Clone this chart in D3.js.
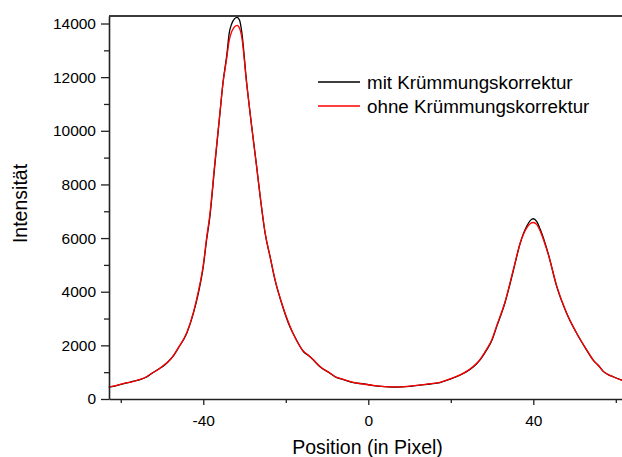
<!DOCTYPE html>
<html>
<head>
<meta charset="utf-8">
<script src="https://cdn.jsdelivr.net/npm/d3@7/dist/d3.min.js"></script>
<style>
  html, body { margin: 0; padding: 0; background: #fff; }
  svg { display: block; font-family: "Liberation Sans", Arial, sans-serif; }
</style>
</head>
<body>
<svg id="chart" width="622" height="457"></svg>
<script>
// Detector position (pixel) of each sample
const positions = [-62.9, -61, -59, -57.5, -55.8, -54, -52.5, -50.9, -49.5, -48.5, -47.2, -46.1, -44.0, -42.4, -41.2,
  -40.0, -39.2, -38.4, -37.2, -36.0, -35.2, -34.3, -33.7, -33.1, -32.4, -31.8, -31.2, -30.7, -29.5, -28.3,
  -27.1, -26.1, -25.0, -23.8, -22.6, -21.0, -19.0, -17.4, -15.7, -14.5, -13.3, -11.7, -9.3, -8.1, -6,
  -3.6, -1, 1.2, 4, 6.9, 10, 12.5, 15, 17.4, 19.5, 21.4, 23.5, 25.5, 27.2, 28.7,
  30, 31.1, 33.1, 35.2, 36.8, 38.4, 39.3, 40.0, 40.8, 41.7, 43.6, 45.7, 48.1, 50.5, 52.9,
  54.5, 55.8, 57.0, 58.2, 59.4, 61.5];

// Intensity with curvature correction
const withCorrection = [440, 500, 580, 640, 700, 800, 950, 1110, 1250, 1390, 1620, 1890, 2450, 3190, 3940,
  4930, 5920, 6790, 8720, 10580, 11820, 12820, 13650, 13990, 14180, 14230, 14120, 13720, 11820, 10210,
  8720, 7420, 6170, 5300, 4430, 3570, 2690, 2200, 1760, 1620, 1450, 1200, 960, 830, 720,
  610, 560, 500, 460, 440, 470, 520, 560, 610, 720, 830, 990, 1200, 1480, 1830,
  2200, 2690, 3570, 4810, 5800, 6440, 6660, 6720, 6620, 6320, 5430, 4180, 3190, 2450, 1830,
  1450, 1250, 1020, 900, 830, 700];

// Intensity without curvature correction
const withoutCorrection = [450, 510, 590, 630, 710, 810, 960, 1100, 1270, 1400, 1630, 1900, 2470, 3230, 4000,
  5000, 6000, 6880, 8800, 10620, 11800, 12720, 13380, 13700, 13880, 13930, 13820, 13520, 11780, 10200,
  8700, 7430, 6190, 5310, 4450, 3580, 2720, 2180, 1780, 1630, 1460, 1210, 970, 840, 730,
  620, 550, 510, 460, 450, 480, 520, 570, 620, 730, 840, 1000, 1220, 1500, 1860,
  2230, 2720, 3600, 4850, 5800, 6380, 6540, 6580, 6510, 6250, 5400, 4200, 3200, 2460, 1840,
  1460, 1240, 1030, 910, 820, 690];

const seriesNames = ["mit Krümmungskorrektur", "ohne Krümmungskorrektur"];
const seriesColors = ["#000000", "#ff0000"];

const xMajorTicks = [-40, 0, 40];
const xMinorTicks = [-60, -20, 20, 60];
const yMajorTicks = [0, 2000, 4000, 6000, 8000, 10000, 12000, 14000];
const yMinorTicks = [1000, 3000, 5000, 7000, 9000, 11000, 13000];

const xTitle = "Position (in Pixel)";
const yTitle = "Intensität";

const svg = d3.select("#chart");
const plot = { left: 109, right: 622, top: 16, bottom: 399 };

const x = d3.scaleLinear().domain([-62.85, 61.5]).range([plot.left, plot.right]);
const y = d3.scaleLinear().domain([0, 14280]).range([plot.bottom, plot.top]);

// Plain hyphen-minus labels
const plainFormat = d => String(d);

// Curves (black first, red drawn on top)
const line = d3.line()
  .x(d => x(d[0]))
  .y(d => y(d[1]))
  .curve(d3.curveMonotoneX);

[withCorrection, withoutCorrection].forEach((vals, i) => {
  svg.append("path")
    .datum(positions.map((p, k) => [p, vals[k]]))
    .attr("fill", "none")
    .attr("stroke", seriesColors[i])
    .attr("stroke-width", 1.3)
    .attr("stroke-linejoin", "round")
    .attr("d", line);
});

// Top frame line
svg.append("line")
  .attr("x1", plot.left).attr("x2", plot.right)
  .attr("y1", plot.top).attr("y2", plot.top)
  .attr("stroke", "#3c3c3c").attr("stroke-width", 2);

// X axis
const xAxis = svg.append("g").attr("transform", `translate(0,${plot.bottom})`);
xAxis.call(d3.axisBottom(x).tickValues(xMajorTicks).tickSize(6).tickPadding(10).tickFormat(plainFormat).tickSizeOuter(0));
xAxis.append("g").call(d3.axisBottom(x).tickValues(xMinorTicks).tickSize(4).tickFormat("").tickSizeOuter(0))
  .select(".domain").remove();
xAxis.selectAll(".domain").attr("stroke", "#222").attr("stroke-width", 1.6);
xAxis.selectAll(".tick line").attr("stroke", "#222").attr("stroke-width", 1.3);
xAxis.selectAll(".tick text").attr("font-size", 15.5).attr("fill", "#000")
  .attr("font-family", "'Liberation Sans', Arial, sans-serif");

// Y axis
const yAxis = svg.append("g").attr("transform", `translate(${plot.left},0)`);
yAxis.call(d3.axisLeft(y).tickValues(yMajorTicks).tickSize(8).tickPadding(5).tickFormat(plainFormat).tickSizeOuter(0));
yAxis.append("g").call(d3.axisLeft(y).tickValues(yMinorTicks).tickSize(5).tickFormat("").tickSizeOuter(0))
  .select(".domain").remove();
yAxis.selectAll(".domain").attr("stroke", "#222").attr("stroke-width", 1.6);
yAxis.selectAll(".tick line").attr("stroke", "#222").attr("stroke-width", 1.3);
yAxis.selectAll(".tick text").attr("font-size", 15.5).attr("fill", "#000")
  .attr("font-family", "'Liberation Sans', Arial, sans-serif");

// Axis titles
svg.append("text")
  .attr("x", (plot.left + plot.right) / 2 + 2)
  .attr("y", 454)
  .attr("text-anchor", "middle")
  .attr("font-size", 19.5)
  .text(xTitle);

svg.append("text")
  .attr("transform", `translate(27,${(plot.top + plot.bottom) / 2 - 4}) rotate(-90)`)
  .attr("text-anchor", "middle")
  .attr("font-size", 19.5)
  .text(yTitle);

// Legend
const legend = svg.append("g").attr("transform", "translate(318,82)");
seriesNames.forEach((name, i) => {
  const g = legend.append("g").attr("transform", `translate(0,${i * 24})`);
  g.append("line").attr("x1", 0).attr("x2", 42).attr("y1", 0).attr("y2", 0)
    .attr("stroke", seriesColors[i]).attr("stroke-width", 1.3);
  g.append("text").attr("x", 49).attr("y", 7).attr("font-size", 18.8).text(name);
});
</script>
</body>
</html>
